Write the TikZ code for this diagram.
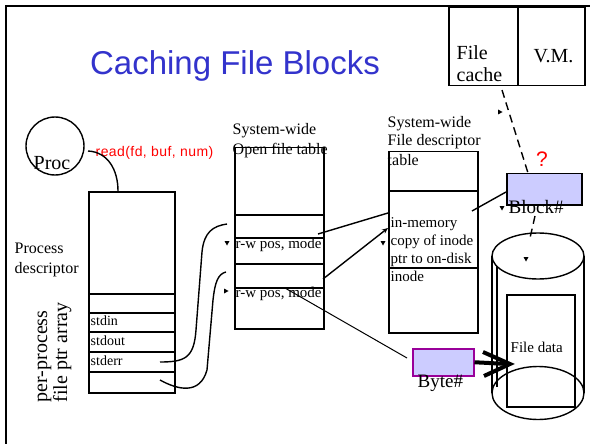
\documentclass[tikz,border=0pt]{standalone}
\usepackage{fontspec}
\setmainfont{Liberation Serif}
\newfontfamily\arial{Liberation Sans}
\newfontfamily\arialwide[LetterSpace=3]{Liberation Sans}
\usetikzlibrary{arrows.meta}
\definecolor{titleblue}{HTML}{3333CC}
\definecolor{lavender}{HTML}{CCCCFF}
\definecolor{plum}{HTML}{990099}
\tikzset{
  lbl/.style={inner sep=0pt, anchor=base west},
  box/.style={draw, anchor=north west, inner sep=0pt, line width=1.5pt},
  conn/.style={line width=1.4pt},
  tipdown/.pic={\fill (-2.5,-2) -- (2.5,-2) -- (0,2.5) -- cycle;},
  tipright/.pic={\fill (-2,-2.5) -- (-2,2.5) -- (2.5,0) -- cycle;},
}
\newcommand{\fs}[1]{\fontsize{#1}{#1}\selectfont}
\begin{document}
\begin{tikzpicture}[x=1pt, y=-1pt, line width=1.4pt]
\useasboundingbox (0,0) rectangle (590,444);

% slide frame
\draw[line width=2.5pt] (6,444) -- (6,6) -- (590,6);

% title
\node[inner sep=0pt, anchor=base, text=titleblue, font=\arial\fs{33}] (title) at (235,75) {Caching File Blocks};

% process
\node[draw, circle, minimum size=58pt, inner sep=0pt] (proc) at (55,146) {};
\node[lbl, font=\fs{20}] (proctxt) at (33,169) {Proc};
\node[lbl, text=red, font=\arialwide\fs{14}] (readcall) at (95,157) {read(fd, buf, num)};

% process descriptor with its file pointer array
\node[box, minimum width=86pt, minimum height=201pt] (pd) at (88,191) {};
\foreach \y in {294,313,332,352,372} \draw[line width=1.5pt] (88,\y) -- (174,\y);
\node[lbl, font=\fs{14}] (stdin) at (90,325) {stdin};
\node[lbl, font=\fs{14}] (stdout) at (90,345) {stdout};
\node[lbl, font=\fs{14}] (stderr) at (90,365) {stderr};
\node[lbl, font=\fs{16}] (pdA) at (14,253) {Process};
\node[lbl, font=\fs{16}] (pdB) at (14,273) {descriptor};
\node[lbl, rotate=90, font=\fs{20}] (ppA) at (47,403) {per-process};
\node[lbl, rotate=90, font=\fs{20}] (ppB) at (67,403) {file ptr array};

% system-wide open file table
\node[lbl, font=\fs{16}] (oftA) at (232,135) {System-wide};
\node[lbl, font=\fs{16}] (oftB) at (232,155) {Open file table};
\node[box, minimum width=89pt, minimum height=181pt] (oft) at (234,147) {};
\foreach \y in {215,238,264,288} \draw[line width=1.5pt] (234,\y) -- (323,\y);
\node[lbl, font=\fs{15}] (rwA) at (235,248) {r-w pos, mode};
\node[lbl, font=\fs{15}] (rwB) at (235,297) {r-w pos, mode};

% system-wide file descriptor table
\node[lbl, font=\fs{16}] (fdtA) at (387,128) {System-wide};
\node[lbl, font=\fs{16}] (fdtB) at (387,146) {File descriptor};
\node[lbl, font=\fs{16}] (fdtC) at (387,165) {table};
\node[box, minimum width=89pt, minimum height=181pt] (fdt) at (388,151) {};
\foreach \y in {191,268} \draw[line width=1.5pt] (388,\y) -- (477,\y);
\node[lbl, font=\fs{15}] (inA) at (390,227) {in-memory};
\node[lbl, font=\fs{15}] (inB) at (390,245) {copy of inode};
\node[lbl, font=\fs{15}] (inC) at (390,263) {ptr to on-disk};
\node[lbl, font=\fs{15}] (inD) at (390,281) {inode};

% file cache / virtual memory
\node[box, minimum width=69pt, minimum height=78pt] (fcache) at (448,7) {};
\node[box, minimum width=67pt, minimum height=78pt] (vm) at (517,7) {};
\node[lbl, font=\fs{20}] (fcA) at (456,60) {File};
\node[lbl, font=\fs{20}] (fcB) at (456,82) {cache};
\node[lbl, font=\fs{20}] (vmtxt) at (533,63) {V.M.};

% block number
\node[box, fill=lavender, minimum width=75pt, minimum height=31pt] (blk) at (506,173) {};
\node[lbl, font=\fs{19}] (blktxt) at (508,213) {Block\#};
\node[inner sep=0pt, anchor=base, text=red, font=\arial\fs{21}] (qm) at (542,167) {?};

% disk
\draw[line width=1.4pt] (492,256) -- (492,393);
\draw[line width=1.4pt] (497,266) -- (497,387);
\draw[line width=1.4pt] (584,256) -- (584,393);
\draw[line width=1.4pt] (538,256) ellipse[x radius=46, y radius=23];
\draw[line width=1.4pt] (538,393) ellipse[x radius=46, y radius=26.5];
\node[box, minimum width=68pt, minimum height=112pt] (fdata) at (506,294) {};
\node[lbl, font=\fs{15}] (fdtxt) at (510,352) {File data};

% byte number
\node[box, draw=plum, fill=lavender, minimum width=61pt, minimum height=27pt] (byte) at (412,348) {};
\node[lbl, font=\fs{19}] (bytetxt) at (417,387) {Byte\#};

% connection points
\coordinate (procout) at (88,151);
\coordinate (pdtop) at (118,191);
\coordinate (errslot) at (160,362);
\coordinate (lastslot) at (160,380);
\coordinate (oftin1) at (227,224);
\coordinate (oftin2) at (226,272);
\coordinate (oft1out) at (318,234);
\coordinate (oft2out) at (323,279);
\coordinate (rwpos) at (285,288);
\coordinate (fdtin1) at (388,213);
\coordinate (fdtin2) at (388,228);
\coordinate (fdtout) at (472,211);
\coordinate (blkin) at (506,192);
\coordinate (cacheout) at (502,90);
\coordinate (blktop) at (528,173);
\coordinate (blkbot) at (535,216);
\coordinate (disktop) at (530,238);
\coordinate (bytein) at (407,358);

% connectors
\draw[conn] (procout) .. controls (108,152) and (118,170) .. (pdtop);
\draw[conn] (errslot) .. controls (185,362) and (194,358) .. (196,330) -- (202,252) .. controls (204,232) and (213,226) .. (oftin1);
\draw[conn] (lastslot) .. controls (178,390) and (200,395) .. (207,370) -- (213,300) .. controls (215,282) and (218,274) .. (oftin2);
\draw[conn] (oft1out) -- (fdtin1);
\draw[conn, -{Stealth[length=6pt,width=5pt]}] (oft2out) -- (fdtin2);
\draw[line width=1pt] (rwpos) -- (bytein);
\draw[conn] (fdtout) -- (blkin);
\draw[conn, dash pattern=on 8pt off 5pt] (cacheout) -- (blktop);
\draw[conn, dash pattern=on 8pt off 5pt] (blkbot) -- (disktop);
\draw[line width=4pt] (byte.east) -- (508,364);
\draw[line width=4pt, line join=miter] (483,352) -- (510,364) -- (484,376);

% detached arrow tips
\pic at (227,243) {tipdown};
\pic at (226,291) {tipright};
\pic at (383,243) {tipdown};
\pic at (502,208) {tipdown};
\pic at (500,112) {tipright};
\pic at (526,259) {tipdown};
\end{tikzpicture}
\end{document}
